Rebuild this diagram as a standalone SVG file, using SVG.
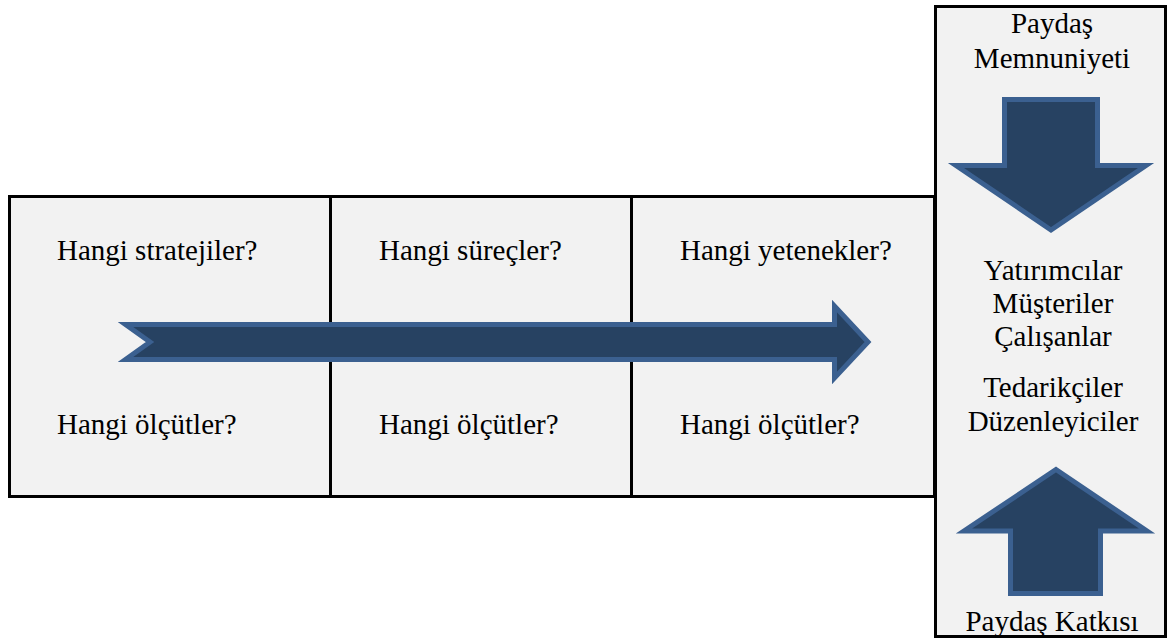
<svg xmlns="http://www.w3.org/2000/svg" width="1170" height="640" viewBox="0 0 1170 640">
<style>
.box{fill:#f2f2f2;stroke:#000;stroke-width:3}
.div{stroke:#000;stroke-width:3}
.arr{fill:#274262;stroke:#3b6090;stroke-width:5;stroke-linejoin:miter}
text{font-family:"Liberation Serif","Times New Roman",serif;font-size:29px;fill:#000}
.c{text-anchor:middle}
</style>
<rect width="1170" height="640" fill="#fff"/>
<g id="strategy-grid">
<rect class="box" x="9.5" y="196.5" width="925" height="300"/>
<line class="div" x1="330.5" y1="196.5" x2="330.5" y2="496.5"/>
<line class="div" x1="631.5" y1="196.5" x2="631.5" y2="496.5"/>
</g>
<g id="cell-1">
<text x="57" y="260">Hangi stratejiler?</text>
<text x="57" y="434">Hangi ölçütler?</text>
</g>
<g id="cell-2">
<text x="379" y="260">Hangi süreçler?</text>
<text x="379" y="434">Hangi ölçütler?</text>
</g>
<g id="cell-3">
<text x="680" y="260">Hangi yetenekler?</text>
<text x="680" y="434">Hangi ölçütler?</text>
</g>
<g id="stakeholders">
<rect class="box" x="935.5" y="6.5" width="230" height="630"/>
<text class="c" x="1052" y="33">Paydaş</text>
<text class="c" x="1052" y="68">Memnuniyeti</text>
<text class="c" x="1053" y="280">Yatırımcılar</text>
<text class="c" x="1053" y="313">Müşteriler</text>
<text class="c" x="1053" y="346">Çalışanlar</text>
<text class="c" x="1053" y="397">Tedarikçiler</text>
<text class="c" x="1053" y="431">Düzenleyiciler</text>
<text class="c" x="1052" y="631">Paydaş Katkısı</text>
</g>
<g id="connectors">
<polygon class="arr" points="125.5,324.5 834.5,324.5 834.5,306 868,342 834.5,378 834.5,359.5 125.5,359.5 150,342"/>
<polygon class="arr" points="1004.5,99.5 1097.5,99.5 1097.5,165.5 1146,165.5 1051,230 956,165.5 1004.5,165.5"/>
<polygon class="arr" points="1056,469.5 1147,531 1100.5,531 1100.5,593.5 1010.5,593.5 1010.5,531 964,531"/>
</g>
</svg>
